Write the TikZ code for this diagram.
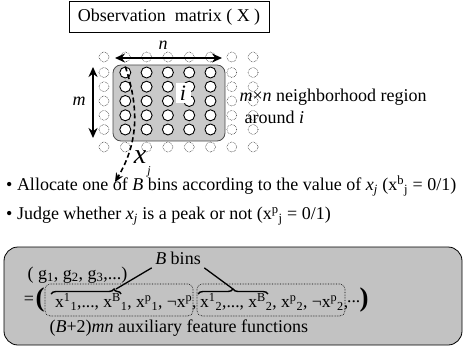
\documentclass[tikz,border=0pt]{standalone}
\usepackage{fontspec}
\setmainfont{Liberation Serif}
\usetikzlibrary{positioning, arrows.meta, decorations.pathreplacing}

\begin{document}
\begin{tikzpicture}[
    x=1pt, y=-1pt,
    font=\fontsize{18}{21}\selectfont,
    cell/.style={circle, draw, line width=0.9pt, fill=white, minimum size=11pt, inner sep=0pt},
    ghost/.style={circle, draw, densely dotted, line width=0.5pt, minimum size=10pt, inner sep=0pt},
    region/.style={draw=black!70, fill=black!21, rounded corners=8pt, line width=0.8pt},
    dimarrow/.style={{Stealth[length=10pt,width=9pt]}-{Stealth[length=10pt,width=9pt]}, line width=2.2pt},
    group/.style={draw, densely dotted, rounded corners=5pt, line width=0.6pt},
    panel/.style={draw, fill=black!24, rounded corners=14pt, line width=0.8pt},
    bigparen/.style={font=\fontsize{27}{27}\selectfont\bfseries, inner sep=0pt},
    bin/.style={decorate, decoration={brace, amplitude=5pt}, line width=1.4pt},
    bullet/.style={anchor=west, inner sep=0pt},
    feat/.style={anchor=west, inner sep=0pt, font=\fontsize{17.5}{21}\selectfont}
  ]
  \useasboundingbox (0,0) rectangle (463,353);

  \node[draw, line width=0.8pt, minimum width=200pt, minimum height=31pt, inner sep=0pt] (title) at (169,17) {Observation\ \ matrix ( X )};

  % neighborhood region
  \node[region, minimum width=112pt, minimum height=76pt] (region) at (169,103) {};
  \foreach \yy [count=\r from 0] in {57,72.5,86.7,101,115.3,129.5,147}
    \foreach \c in {0,...,7} {
      \pgfmathtruncatemacro{\isin}{(\r>0)*(\r<6)*(\c>0)*(\c<6)}
      \ifnum\isin=1
        \node[cell] (c\r\c) at (104+21.3*\c,\yy) {};
      \else
        \node[ghost] (c\r\c) at (104+21.3*\c,\yy) {};
      \fi
    }
  \node[fill=white, inner sep=0pt, minimum width=15pt, minimum height=20pt, font=\fontsize{22}{22}\selectfont\itshape] (centre) at (183,93) {i};

  \coordinate (nL) at (115,58);
  \coordinate (nR) at (222,58);
  \draw[dimarrow] (nL) -- (nR);
  \node (nlab) at (163,45) {\textit{n}};

  \coordinate (mT) at (93,67);
  \coordinate (mB) at (93,138);
  \draw[dimarrow] (mT) -- (mB);
  \node (mlab) at (79,101) {\textit{m}};

  \node[anchor=west] (hood) at (236,97) {\textit{m}×\textit{n} neighborhood region};
  \node[anchor=west] (around) at (241,117) {around \textit{i}};

  \coordinate (xtip) at (115,182);
  \draw[line width=1.6pt, dash pattern=on 5pt off 3pt, -{Stealth[length=9pt,width=8pt]}] (c11.north) .. controls (138,105) and (140,140) .. (xtip);
  \node[font=\fontsize{28}{28}\selectfont\itshape, inner sep=0pt] (xlab) at (140,157) {x};
  \node[font=\fontsize{12}{12}\selectfont\itshape, inner sep=0pt] (jlab) at (149,172) {j};

  \node[bullet] (alloc) at (6,186) {\textbullet\ Allocate one of \textit{B} bins according to the value of \textit{x}\textsubscript{\textit{j}} (x\textsuperscript{b}\textsubscript{j} = 0/1)};
  \node[bullet] (judge) at (6,216) {\textbullet\ Judge whether \textit{x}\textsubscript{\textit{j}} is a peak or not (x\textsuperscript{p}\textsubscript{j} = 0/1)};

  % feature vector
  \node[panel, minimum width=458pt, minimum height=98pt] (panel) at (233,296) {};
  \node[anchor=west] (gvec) at (24,275) {( g\textsubscript{1}, g\textsubscript{2}, g\textsubscript{3},...)};
  \node (bins) at (178,258) {\textit{B} bins};
  \node[inner sep=0pt] (eq) at (29,300) {=};
  \node[bigparen] (lpar) at (40,300) {(};
  \node[group, minimum width=148pt, minimum height=32pt] (box1) at (119,300) {};
  \node[group, minimum width=148pt, minimum height=32pt] (box2) at (271,300) {};
  \node[feat] (grp1) at (55,302) {x\textsuperscript{1}\textsubscript{1},..., x\textsuperscript{B}\textsubscript{1}, x\textsuperscript{p}\textsubscript{1}, ¬x\textsuperscript{p},};
  \node[feat] (grp2) at (200,302) {x\textsuperscript{1}\textsubscript{2},..., x\textsuperscript{B}\textsubscript{2}, x\textsuperscript{p}\textsubscript{2}, ¬x\textsuperscript{p}\textsubscript{2},};
  \node[feat] (more) at (347,302) {...};
  \node[bigparen] (rpar) at (364,300) {)};

  \draw[bin, decoration={aspect=0.9}] (51,294) -- (121,294) coordinate (b1end);
  \draw[bin, decoration={aspect=0.5}] (198,294) -- (268,294) coordinate (b2end);
  \coordinate (tip1) at (116,289);
  \coordinate (tip2) at (233,289);
  \draw[line width=1.3pt] (bins.south west) -- (tip1);
  \draw[line width=1.3pt] (bins.south east) -- (tip2);

  \node[anchor=west] (count) at (46,328) {(\textit{B}+2)\textit{mn} auxiliary feature functions};
\end{tikzpicture}
\end{document}
